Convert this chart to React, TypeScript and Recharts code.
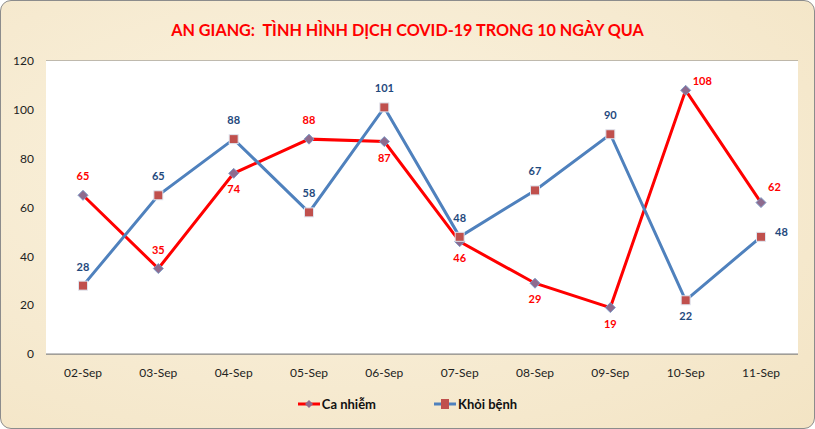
import React from 'react';
import { LineChart, Line, XAxis, YAxis, CartesianGrid, Legend, LabelList } from 'recharts';

const days = ['02-Sep', '03-Sep', '04-Sep', '05-Sep', '06-Sep', '07-Sep', '08-Sep', '09-Sep', '10-Sep', '11-Sep'];
const caNhiem = [65, 35, 74, 88, 87, 46, 29, 19, 108, 62];
const khoiBenh = [28, 65, 88, 58, 101, 48, 67, 90, 22, 48];
const yTicks = [0, 20, 40, 60, 80, 100, 120];

// where each value label sits relative to its point
const caNhiemLabelSide = ['top', 'top', 'bottom', 'top', 'bottom', 'bottom', 'bottom', 'bottom', 'topright', 'topright'];
const khoiBenhLabelSide = ['top', 'top', 'top', 'top', 'top', 'top', 'top', 'top', 'bottom', 'right'];

const data = days.map((d, i) => ({ day: d, caNhiem: caNhiem[i], khoiBenh: khoiBenh[i] }));

const FONT = 'Lato, "Open Sans", sans-serif';
const RED = '#ff0000';
const BLUE = '#4f81bd';

const Diamond = (props: any) => {
  const { cx, cy } = props;
  if (cx == null || cy == null) return null;
  const r = 5;
  return (
    <path
      d={`M${cx},${cy - r}L${cx + r},${cy}L${cx},${cy + r}L${cx - r},${cy}Z`}
      fill="#8e6b8e"
      stroke="#7f9cc8"
      strokeWidth={1}
    />
  );
};

const Square = (props: any) => {
  const { cx, cy } = props;
  if (cx == null || cy == null) return null;
  const r = 4.5;
  return <rect x={cx - r} y={cy - r} width={2 * r} height={2 * r} fill="#c0504d" stroke="#dfe6f0" strokeWidth={1} />;
};

const makeLabel = (sides: string[], color: string) => (props: any) => {
  const { x, y, value, index } = props;
  const side = sides[index];
  let tx = x;
  let ty = y - 15;
  let anchor: 'middle' | 'start' = 'middle';
  if (side === 'bottom') ty = y + 20;
  if (side === 'topright') {
    tx = x + 7;
    ty = y - 5;
    anchor = 'start';
    if (index === caNhiem.length - 1) ty = y - 12;
  }
  if (side === 'right') {
    tx = x + 14;
    ty = y - 1;
    anchor = 'start';
  }
  return (
    <text x={tx} y={ty} fill={color} fontSize={11} fontWeight="bold" fontFamily={FONT} textAnchor={anchor}>
      {value}
    </text>
  );
};

const LegendContent = () => (
  <div style={{ display: 'flex', justifyContent: 'center', gap: 58, fontFamily: FONT, fontSize: 13, fontWeight: 'bold', color: '#111' }}>
    <span style={{ display: 'flex', alignItems: 'center', gap: 2 }}>
      <svg width={22} height={10}>
        <line x1={0} y1={5} x2={22} y2={5} stroke={RED} strokeWidth={3} />
        <path d="M11,1L15,5L11,9L7,5Z" fill="#8e6b8e" />
      </svg>
      Ca nhiễm
    </span>
    <span style={{ display: 'flex', alignItems: 'center', gap: 2 }}>
      <svg width={22} height={12}>
        <line x1={0} y1={6} x2={22} y2={6} stroke={BLUE} strokeWidth={3} />
        <rect x={7} y={1} width={8} height={10} fill="#c0504d" />
      </svg>
      Khỏi bệnh
    </span>
  </div>
);

export default function App() {
  return (
    <div
      style={{
        position: 'absolute',
        left: 0,
        top: 0,
        width: 813,
        height: 427,
        border: '1px solid #8c8c8c',
        borderRadius: 11,
        background: 'radial-gradient(ellipse at 40% 40%, #fbf3df 0%, #f6ead0 60%, #f3e4c4 100%)',
        overflow: 'hidden',
      }}
    >
      <div
        style={{
          position: 'absolute',
          top: 19,
          width: '100%',
          textAlign: 'center',
          color: RED,
          fontFamily: FONT,
          fontWeight: 'bold',
          fontSize: 16.2,
          whiteSpace: 'pre',
        }}
      >
        {'AN GIANG:  TÌNH HÌNH DỊCH COVID-19 TRONG 10 NGÀY QUA'}
      </div>
      <LineChart width={813} height={427} data={data} margin={{ top: 60, right: 16, bottom: 8, left: 0 }}>
        <rect x={45} y={60} width={752} height={293} fill="#ffffff" />
        <CartesianGrid vertical={false} stroke="#868686" strokeWidth={1} fill="#ffffff" />
        <XAxis
          dataKey="day"
          axisLine={{ stroke: '#868686' }}
          tickLine={false}
          tick={{ fill: '#222', fontSize: 12, fontFamily: FONT }}
          tickMargin={8}
          height={32}
          padding={{ left: 37, right: 37 }}
        />
        <YAxis
          domain={[0, 120]}
          ticks={yTicks}
          width={45}
          axisLine={false}
          tickLine={false}
          tick={{ fill: '#222', fontSize: 12, fontFamily: FONT }}
          tickMargin={6}
        />
        <Legend
          verticalAlign="bottom"
          height={34}
          content={<LegendContent />}
          wrapperStyle={{ top: 395, bottom: 'auto', left: 0, width: 813 }}
        />
        <Line
          dataKey="caNhiem"
          name="Ca nhiễm"
          stroke={RED}
          strokeWidth={3}
          dot={<Diamond />}
          activeDot={false}
          isAnimationActive={false}
        >
          <LabelList dataKey="caNhiem" content={makeLabel(caNhiemLabelSide, RED)} />
        </Line>
        <Line
          dataKey="khoiBenh"
          name="Khỏi bệnh"
          stroke={BLUE}
          strokeWidth={3}
          dot={<Square />}
          activeDot={false}
          isAnimationActive={false}
        >
          <LabelList dataKey="khoiBenh" content={makeLabel(khoiBenhLabelSide, '#1f497d')} />
        </Line>
      </LineChart>
    </div>
  );
}
